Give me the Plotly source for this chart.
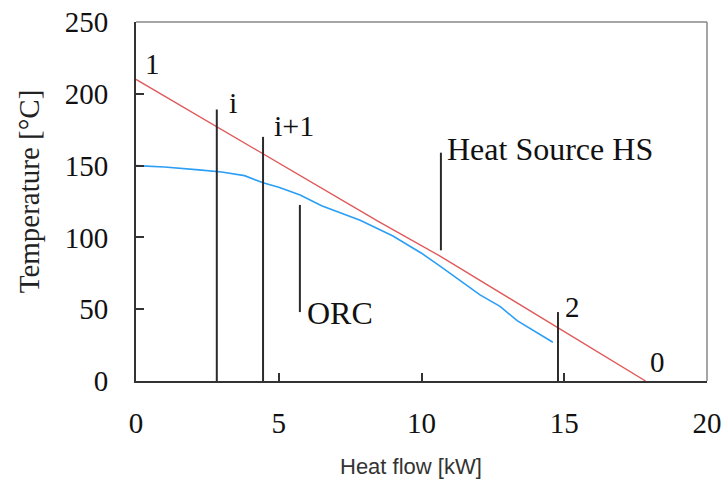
import plotly.graph_objects as go

# ---- data ----
hs_x = [0, 2.84, 4.45, 6.44, 8.5, 10.65, 12.05, 13.45, 14.77, 17.85]
hs_t = [210, 177, 158.5, 135, 111, 87, 70, 53, 37, 0]

orc_x = [0, 1.0, 2.2, 3.0, 3.8, 4.45, 5.0, 5.75, 6.5, 7.85, 9.0, 10.0, 10.65, 12.05, 12.75, 13.35, 14.6]
orc_t = [150, 149, 147, 145.5, 143, 138, 135, 129.5, 122, 112, 101, 89, 80, 60, 52, 42, 27]

# pointer / marker lines (x, y-bottom, y-top)
mark_x = [2.83, 4.45, 5.74, 10.68, 14.78]
mark_y0 = [0, 0, 48, 91, 0]
mark_y1 = [189, 170, 122.6, 159, 48]

# text labels
label_text = ["1", "i", "i+1", "Heat Source HS", "ORC", "2", "0"]
label_x = [0.58, 3.38, 5.53, 10.82, 5.92, 15.29, 18.27]
label_y = [221, 194, 178, 161.5, 47.4, 51.5, 13.2]
label_anchor = ["center", "center", "center", "left", "left", "center", "center"]
label_size = [29, 30, 30, 32, 32, 29, 29]

x_ticks = [0, 5, 10, 15, 20]
y_ticks = [0, 50, 100, 150, 200, 250]

SERIF = "Liberation Serif, Times New Roman, serif"

fig = go.Figure()

fig.add_trace(go.Scatter(x=hs_x, y=hs_t, mode="lines",
                         line=dict(color="#e05a5a", width=1.4), showlegend=False))
fig.add_trace(go.Scatter(x=orc_x, y=orc_t, mode="lines",
                         line=dict(color="#2b9ef5", width=1.6), showlegend=False))

mx, my = [], []
for x, y0, y1 in zip(mark_x, mark_y0, mark_y1):
    mx += [x, x, None]
    my += [y0, y1, None]
fig.add_trace(go.Scatter(x=mx, y=my, mode="lines",
                         line=dict(color="#2a2a2a", width=2), showlegend=False))

for t, x, y, a, s in zip(label_text, label_x, label_y, label_anchor, label_size):
    fig.add_annotation(x=x, y=y, text=t, showarrow=False, xanchor=a, yanchor="middle",
                       font=dict(family=SERIF, size=s, color="#111"))

fig.add_annotation(xref="paper", yref="paper", x=-0.187, y=0.529, text="Temperature [°C]",
                   textangle=-90, showarrow=False, xanchor="center", yanchor="middle",
                   font=dict(family=SERIF, size=29, color="#222"))
fig.add_annotation(xref="paper", yref="paper", x=0.4816, y=-0.238, text="Heat flow [kW]",
                   showarrow=False, xanchor="center", yanchor="middle",
                   font=dict(family="Liberation Sans, Arial, sans-serif", size=22, color="#333"))

# frame top/right
fig.add_shape(type="line", xref="paper", yref="paper", x0=0, x1=1, y0=1, y1=1,
              line=dict(color="#888", width=1.5))
fig.add_shape(type="line", xref="paper", yref="paper", x0=1, x1=1, y0=0, y1=1,
              line=dict(color="#888", width=1.5))

fig.update_xaxes(range=[0, 20], tickvals=x_ticks, ticktext=[str(v) for v in x_ticks],
                 showgrid=False, zeroline=False, showline=True, linecolor="#333", linewidth=2,
                 ticks="inside", ticklen=8, tickwidth=2, tickcolor="#333",
                 ticklabelstandoff=15, automargin=False,
                 tickfont=dict(family=SERIF, size=29, color="#111"))
fig.update_yaxes(range=[0, 250], tickvals=y_ticks, ticktext=[str(v) for v in y_ticks],
                 showgrid=False, zeroline=False, showline=True, linecolor="#333", linewidth=2,
                 ticks="inside", ticklen=8, tickwidth=2, tickcolor="#333",
                 ticklabelstandoff=20, automargin=False,
                 tickfont=dict(family=SERIF, size=29, color="#111"))

fig.update_layout(width=722, height=484, margin=dict(l=136, r=15, t=22, b=103),
                  plot_bgcolor="white", paper_bgcolor="white", showlegend=False)

fig.write_html("out.html")
